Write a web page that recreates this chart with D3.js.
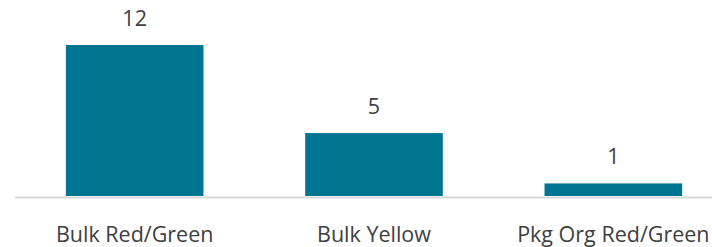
<!DOCTYPE html>
<html>
<head>
<meta charset="utf-8">
<script src="https://cdn.jsdelivr.net/npm/d3@7"></script>
<style>
  html, body { margin: 0; padding: 0; background: #ffffff; }
  svg { display: block; }
</style>
</head>
<body>
<svg id="chart" width="712" height="247"></svg>
<script>
const categories = ["Bulk Red/Green", "Bulk Yellow", "Pkg Org Red/Green"];
const values = [12, 5, 1];
const valueLabels = ["12", "5", "1"];

const svg = d3.select("#chart");
const W = 712, H = 247;
const baseY = 196;
const fontFamily = "'Open Sans', 'Noto Sans', sans-serif";
const textColor = "#404040";
const barColor = "#007592";

const x = d3.scaleBand()
  .domain(categories)
  .range([15, 733])
  .paddingInner(0.425)
  .paddingOuter(0.2125);

const y = d3.scaleLinear()
  .domain([0, 12])
  .range([baseY, 45]);

const data = categories.map((c, i) => ({ c, v: values[i], label: valueLabels[i] }));

svg.append("g").selectAll("rect")
  .data(data)
  .join("rect")
  .attr("x", d => x(d.c))
  .attr("y", d => y(d.v))
  .attr("width", x.bandwidth())
  .attr("height", d => y(0) - y(d.v))
  .attr("fill", barColor);

// axis baseline
const xAxis = d3.axisBottom(x).tickSize(0).tickPadding(0).tickFormat("");
const axisG = svg.append("g")
  .attr("transform", `translate(0,${baseY + 1.5})`)
  .call(xAxis);
axisG.select(".domain")
  .attr("d", `M15,0H${W}`)
  .attr("stroke", "#d9d9d9")
  .attr("stroke-width", 2);

// category labels
svg.append("g").selectAll("text")
  .data(data)
  .join("text")
  .attr("x", d => x(d.c) + x.bandwidth() / 2)
  .attr("y", 241.5)
  .attr("text-anchor", "middle")
  .attr("font-family", fontFamily)
  .attr("font-size", 21.5)
  .attr("fill", textColor)
  .text(d => d.c);

// value labels
svg.append("g").selectAll("text")
  .data(data)
  .join("text")
  .attr("x", d => x(d.c) + x.bandwidth() / 2)
  .attr("y", d => y(d.v) - 19)
  .attr("text-anchor", "middle")
  .attr("font-family", fontFamily)
  .attr("font-size", 21.5)
  .attr("fill", textColor)
  .text(d => d.label);
</script>
</body>
</html>
